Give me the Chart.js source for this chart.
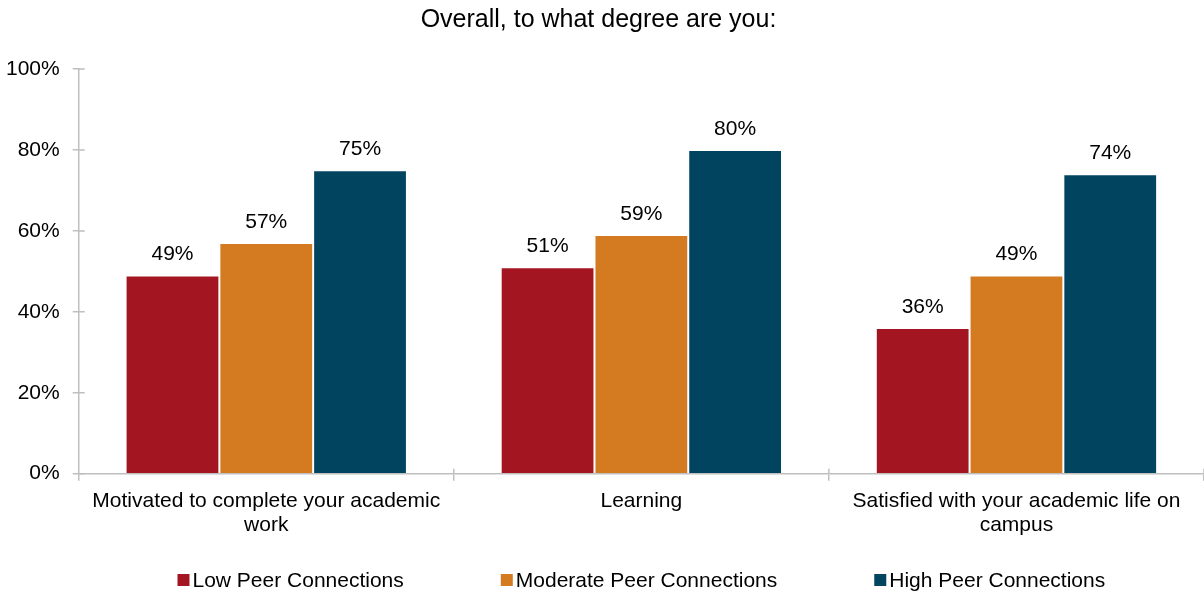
<!DOCTYPE html>
<html>
<head>
    <title>Overall, to what degree are you</title>
    <style>
        html, body { margin: 0; padding: 0; background: #fff; }
        .chart-container { width: 1204px; height: 595px; }
    </style>
    <script src="https://cdn.jsdelivr.net/npm/chart.js"></script>
</head>
<body>
    <div class="chart-container">
        <canvas id="chart1"></canvas>
    </div>
    <script>
        const categories = [
            ['Motivated to complete your academic', 'work'],
            'Learning',
            ['Satisfied with your academic life on', 'campus']
        ];
        const seriesNames = ['Low Peer Connections', 'Moderate Peer Connections', 'High Peer Connections'];
        const lowPeer = [49, 51, 36];
        const moderatePeer = [57, 59, 49];
        const highPeer = [75, 80, 74];
        const yTicks = [0, 20, 40, 60, 80, 100];

        const FONT = 'Liberation Sans, Arial, sans-serif';
        const AXIS_GREY = '#BFBFBF';

        // value labels above each bar
        const barLabels = {
            id: 'barLabels',
            afterDatasetsDraw(chart) {
                const ctx = chart.ctx;
                ctx.save();
                ctx.font = '21px ' + FONT;
                ctx.fillStyle = '#000';
                ctx.textAlign = 'center';
                ctx.textBaseline = 'alphabetic';
                chart.data.datasets.forEach((ds, i) => {
                    chart.getDatasetMeta(i).data.forEach((bar, j) => {
                        ctx.fillText(ds.data[j] + '%', bar.x, bar.y - 15);
                    });
                });
                ctx.restore();
            }
        };

        // short tick stubs on the inner side of both axes
        const innerTicks = {
            id: 'innerTicks',
            afterDraw(chart) {
                const ctx = chart.ctx;
                const x = chart.scales.x, y = chart.scales.y;
                ctx.save();
                ctx.strokeStyle = AXIS_GREY;
                ctx.lineWidth = 1.5;
                ctx.beginPath();
                y.ticks.forEach((t, i) => {
                    const py = y.getPixelForTick(i);
                    ctx.moveTo(y.right, py);
                    ctx.lineTo(y.right + 6, py);
                });
                for (let i = 1; i <= x.ticks.length; i++) {
                    const px = x.left + (x.width / x.ticks.length) * i;
                    ctx.moveTo(px, x.top);
                    ctx.lineTo(px, x.top - 5);
                }
                ctx.stroke();
                ctx.restore();
            }
        };

        // legend row under the axis labels, square marker close to its text
        const bottomLegend = {
            id: 'bottomLegend',
            afterDraw(chart) {
                const ctx = chart.ctx;
                const box = 12, gap = 3, spacing = 97;
                ctx.save();
                ctx.font = '21px ' + FONT;
                ctx.textBaseline = 'middle';
                ctx.textAlign = 'left';
                const items = chart.data.datasets.map(ds => ({
                    text: ds.label,
                    color: ds.backgroundColor,
                    w: box + gap + ctx.measureText(ds.label).width
                }));
                const total = items.reduce((s, it) => s + it.w, 0) + spacing * (items.length - 1);
                const cy = chart.height - 15;
                let cx = (chart.chartArea.left + chart.chartArea.right) / 2 - total / 2;
                items.forEach(it => {
                    ctx.fillStyle = it.color;
                    ctx.fillRect(cx, cy - box / 2, box, box);
                    ctx.fillStyle = '#000';
                    ctx.fillText(it.text, cx + box + gap, cy + 1);
                    cx += it.w + spacing;
                });
                ctx.restore();
            }
        };

        const ctx1 = document.getElementById('chart1').getContext('2d');
        const chart1 = new Chart(ctx1, {
            type: 'bar',
            data: {
                labels: categories,
                datasets: [{
                    label: seriesNames[0],
                    data: lowPeer,
                    backgroundColor: '#A31621',
                    borderColor: 'rgba(255,255,255,0.5)',
                    borderWidth: 1
                }, {
                    label: seriesNames[1],
                    data: moderatePeer,
                    backgroundColor: '#D47B22',
                    borderColor: 'rgba(255,255,255,0.5)',
                    borderWidth: 1
                }, {
                    label: seriesNames[2],
                    data: highPeer,
                    backgroundColor: '#00445F',
                    borderColor: 'rgba(255,255,255,0.5)',
                    borderWidth: 1
                }]
            },
            options: {
                responsive: true,
                maintainAspectRatio: false,
                animation: false,
                layout: { padding: { left: -7, right: 0, top: 5, bottom: 50 } },
                datasets: {
                    bar: { categoryPercentage: 0.75, barPercentage: 1.0 }
                },
                plugins: {
                    title: {
                        display: true,
                        text: 'Overall, to what degree are you:',
                        color: '#000',
                        font: { family: FONT, size: 25, weight: 'normal' },
                        padding: { top: 0, bottom: 34 }
                    },
                    legend: { display: false },
                    tooltip: { enabled: false }
                },
                scales: {
                    x: {
                        grid: {
                            offset: true,
                            drawOnChartArea: false,
                            tickLength: 7,
                            color: AXIS_GREY,
                            lineWidth: 1.5
                        },
                        border: { color: AXIS_GREY, width: 1.5 },
                        ticks: {
                            color: '#000',
                            font: { family: FONT, size: 21, lineHeight: 1.15 },
                            maxRotation: 0,
                            padding: 8
                        }
                    },
                    y: {
                        min: 0,
                        max: 100,
                        afterBuildTicks(axis) {
                            axis.ticks = yTicks.map(v => ({ value: v }));
                        },
                        grid: {
                            drawOnChartArea: false,
                            tickLength: 6,
                            color: AXIS_GREY,
                            lineWidth: 1.5
                        },
                        border: { color: AXIS_GREY, width: 1.5 },
                        ticks: {
                            color: '#000',
                            font: { family: FONT, size: 21 },
                            padding: 13,
                            callback: v => v + '%'
                        }
                    }
                }
            },
            plugins: [barLabels, innerTicks, bottomLegend]
        });
    </script>
</body>
</html>
